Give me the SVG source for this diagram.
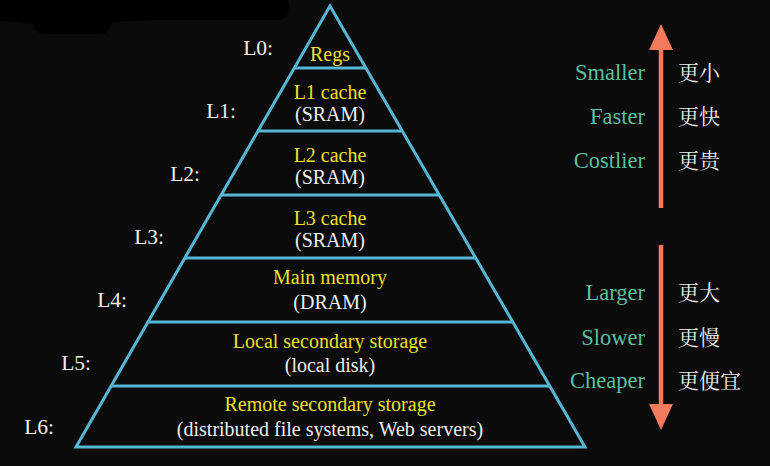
<svg xmlns="http://www.w3.org/2000/svg" width="770" height="466" viewBox="0 0 770 466">
<style>
.pyr-edge{stroke:#57b6d4;stroke-width:3;fill:none}
.pyr-txt{font-family:'Liberation Serif','Times New Roman',serif;font-size:20px;text-anchor:middle}
.pyr-yel{fill:#ece02c}
.pyr-wht{fill:#eeeeee}
.pyr-lvl{font-family:'Liberation Serif','Times New Roman',serif;font-size:21.5px;fill:#eeeeee;text-anchor:end}
.pyr-en{font-family:'Liberation Serif','Times New Roman',serif;font-size:22.5px;fill:#5cbf9d;text-anchor:end}
.pyr-zh{font-family:'Noto Serif CJK SC','Noto Sans CJK SC',serif;font-size:21px;fill:#eeeeee}
.pyr-arr{stroke:#f47a5e;stroke-width:4.5;fill:none}
.pyr-head{fill:#f47a5e}
</style>
<rect width="770" height="466" fill="#0b0b0b"/>
<path d="M0 0 H286 Q290 0 288 12 Q286 20 275 20 H155 L112 22 Q110 33 100 34 H45 Q33 33 34 24 L0 21 Z" fill="#000"/>
<g id="pyramid">
<polygon class="pyr-edge" points="330,6 585,447 76,447"/>
</g>
<g id="connectors">
<line class="pyr-edge" x1="294" y1="68" x2="366" y2="68"/>
<line class="pyr-edge" x1="258" y1="131" x2="402" y2="131"/>
<line class="pyr-edge" x1="221" y1="195" x2="439" y2="195"/>
<line class="pyr-edge" x1="184" y1="258" x2="476" y2="258"/>
<line class="pyr-edge" x1="147" y1="322" x2="513" y2="322"/>
<line class="pyr-edge" x1="111" y1="386" x2="549" y2="386"/>
<line class="pyr-arr" x1="661" y1="208" x2="661" y2="46"/>
<polygon class="pyr-head" points="661,24 673,50 649,50"/>
<line class="pyr-arr" x1="661" y1="245" x2="661" y2="408"/>
<polygon class="pyr-head" points="661,430 673,404 649,404"/>
</g>
<g id="L0"><text class="pyr-lvl" x="273" y="55">L0:</text><text class="pyr-txt pyr-yel" x="330" y="61">Regs</text></g>
<g id="L1"><text class="pyr-lvl" x="236" y="118">L1:</text><text class="pyr-txt pyr-yel" x="330" y="99">L1 cache</text><text class="pyr-txt pyr-wht" x="330" y="121">(SRAM)</text></g>
<g id="L2"><text class="pyr-lvl" x="200" y="181">L2:</text><text class="pyr-txt pyr-yel" x="330" y="162">L2 cache</text><text class="pyr-txt pyr-wht" x="330" y="184">(SRAM)</text></g>
<g id="L3"><text class="pyr-lvl" x="164" y="244">L3:</text><text class="pyr-txt pyr-yel" x="330" y="225">L3 cache</text><text class="pyr-txt pyr-wht" x="330" y="247">(SRAM)</text></g>
<g id="L4"><text class="pyr-lvl" x="127" y="307">L4:</text><text class="pyr-txt pyr-yel" x="330" y="284">Main memory</text><text class="pyr-txt pyr-wht" x="330" y="309">(DRAM)</text></g>
<g id="L5"><text class="pyr-lvl" x="91" y="370">L5:</text><text class="pyr-txt pyr-yel" x="330" y="348">Local secondary storage</text><text class="pyr-txt pyr-wht" x="330" y="372">(local disk)</text></g>
<g id="L6"><text class="pyr-lvl" x="54" y="434">L6:</text><text class="pyr-txt pyr-yel" x="330" y="411">Remote secondary storage</text><text class="pyr-txt pyr-wht" x="330" y="436">(distributed file systems, Web servers)</text></g>
<g id="up-labels">
<text class="pyr-en" x="645" y="80">Smaller</text>
<text class="pyr-en" x="645" y="124">Faster</text>
<text class="pyr-en" x="645" y="168">Costlier</text>
<text class="pyr-zh" x="678" y="80">更小</text>
<text class="pyr-zh" x="678" y="124">更快</text>
<text class="pyr-zh" x="678" y="168">更贵</text>
</g>
<g id="down-labels">
<text class="pyr-en" x="645" y="300">Larger</text>
<text class="pyr-en" x="645" y="345">Slower</text>
<text class="pyr-en" x="645" y="388">Cheaper</text>
<text class="pyr-zh" x="678" y="300">更大</text>
<text class="pyr-zh" x="678" y="345">更慢</text>
<text class="pyr-zh" x="678" y="388">更便宜</text>
</g>
</svg>
